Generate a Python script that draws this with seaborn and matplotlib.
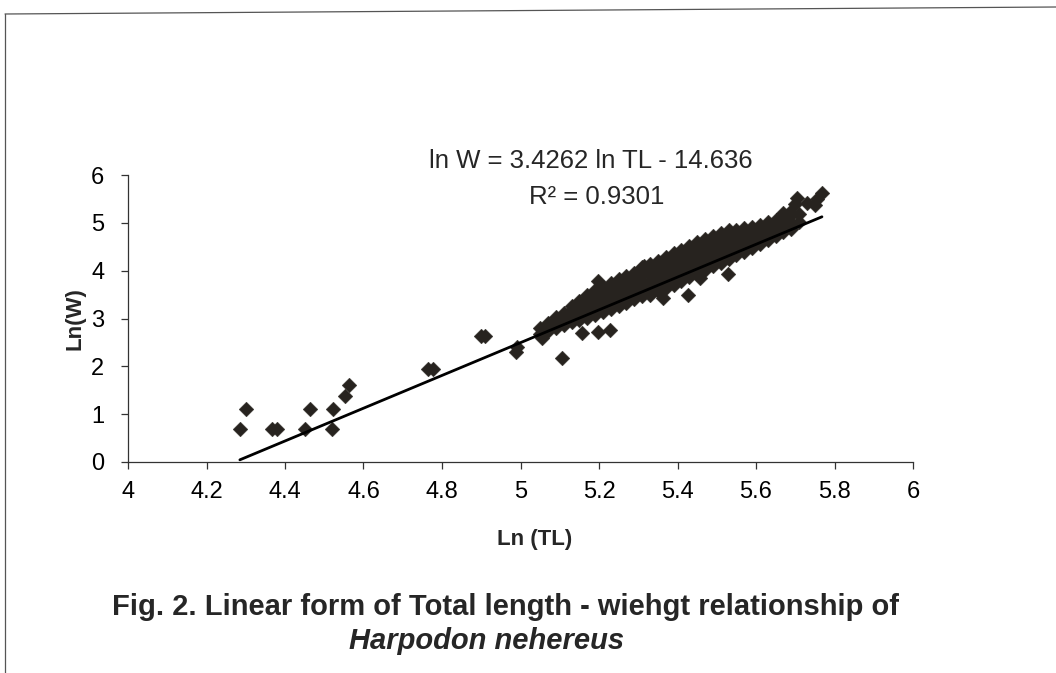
import matplotlib
matplotlib.use("Agg")
import matplotlib.pyplot as plt
import seaborn as sns
import pandas as pd
from matplotlib.lines import Line2D

# small fish at the lower end of the length range
ln_tl_small = [4.285, 4.300, 4.367, 4.380, 4.450, 4.464, 4.520, 4.522, 4.553, 4.563,
               4.764, 4.777, 4.900, 4.910, 4.988, 4.992, 5.055, 5.106]
ln_w_small = [0.69, 1.10, 0.69, 0.69, 0.69, 1.10, 0.69, 1.10, 1.39, 1.61,
              1.95, 1.95, 2.64, 2.64, 2.30, 2.40, 2.60, 2.17]

# main cloud of fish (5.05 - 5.71)
ln_tl_cloud = [5.05, 5.05,
               5.07, 5.07,
               5.09, 5.09, 5.09,
               5.11, 5.11, 5.11,
               5.13, 5.13, 5.13, 5.13,
               5.15, 5.15, 5.15, 5.15,
               5.17, 5.17, 5.17, 5.17, 5.17,
               5.19, 5.19, 5.19, 5.19, 5.19,
               5.21, 5.21, 5.21, 5.21, 5.21,
               5.23, 5.23, 5.23, 5.23, 5.23,
               5.25, 5.25, 5.25, 5.25, 5.25,
               5.27, 5.27, 5.27, 5.27, 5.27,
               5.29, 5.29, 5.29, 5.29, 5.29,
               5.31, 5.31, 5.31, 5.31, 5.31, 5.31,
               5.33, 5.33, 5.33, 5.33, 5.33, 5.33,
               5.35, 5.35, 5.35, 5.35, 5.35, 5.35,
               5.37, 5.37, 5.37, 5.37, 5.37, 5.37,
               5.39, 5.39, 5.39, 5.39, 5.39, 5.39,
               5.41, 5.41, 5.41, 5.41, 5.41, 5.41,
               5.43, 5.43, 5.43, 5.43, 5.43, 5.43,
               5.45, 5.45, 5.45, 5.45, 5.45, 5.45,
               5.47, 5.47, 5.47, 5.47, 5.47, 5.47,
               5.49, 5.49, 5.49, 5.49, 5.49, 5.49,
               5.51, 5.51, 5.51, 5.51, 5.51, 5.51,
               5.53, 5.53, 5.53, 5.53, 5.53, 5.53,
               5.55, 5.55, 5.55, 5.55, 5.55,
               5.57, 5.57, 5.57, 5.57, 5.57,
               5.59, 5.59, 5.59, 5.59,
               5.61, 5.61, 5.61, 5.61,
               5.63, 5.63, 5.63, 5.63,
               5.65, 5.65, 5.65, 5.65,
               5.67, 5.67, 5.67, 5.67,
               5.69, 5.69, 5.69,
               5.71, 5.71]
ln_w_cloud = [2.68, 2.80,
              2.74, 2.90,
              2.80, 2.94, 3.04,
              2.86, 2.98, 3.12,
              2.92, 3.04, 3.18, 3.26,
              2.97, 3.10, 3.24, 3.36,
              3.02, 3.15, 3.28, 3.40, 3.50,
              3.08, 3.22, 3.36, 3.50, 3.60,
              3.14, 3.28, 3.42, 3.56, 3.66,
              3.20, 3.34, 3.48, 3.62, 3.74,
              3.26, 3.40, 3.54, 3.70, 3.82,
              3.32, 3.46, 3.60, 3.76, 3.88,
              3.40, 3.54, 3.68, 3.84, 3.96,
              3.46, 3.60, 3.74, 3.90, 4.02, 4.08,
              3.50, 3.64, 3.78, 3.92, 4.06, 4.14,
              3.58, 3.72, 3.86, 4.00, 4.12, 4.20,
              3.64, 3.78, 3.92, 4.06, 4.18, 4.28,
              3.70, 3.84, 3.98, 4.12, 4.26, 4.36,
              3.78, 3.92, 4.06, 4.20, 4.34, 4.44,
              3.86, 4.00, 4.14, 4.28, 4.42, 4.52,
              3.94, 4.08, 4.22, 4.36, 4.50, 4.60,
              4.02, 4.16, 4.30, 4.44, 4.58, 4.66,
              4.10, 4.24, 4.38, 4.52, 4.64, 4.72,
              4.16, 4.30, 4.44, 4.58, 4.70, 4.78,
              4.24, 4.38, 4.52, 4.64, 4.76, 4.84,
              4.32, 4.46, 4.60, 4.74, 4.86,
              4.40, 4.54, 4.68, 4.80, 4.90,
              4.48, 4.62, 4.76, 4.92,
              4.56, 4.70, 4.84, 4.96,
              4.64, 4.78, 4.90, 5.02,
              4.72, 4.86, 4.98, 5.06,
              4.80, 4.92, 5.06, 5.14,
              4.88, 5.00, 5.16,
              5.02, 5.18]

# points sticking out of the cloud, and the largest fish
ln_tl_edge = [5.157, 5.197, 5.228, 5.197, 5.315, 5.363, 5.427, 5.457, 5.529,
              5.669, 5.687, 5.700, 5.705, 5.730, 5.750, 5.755, 5.768]
ln_w_edge = [2.70, 2.72, 2.76, 3.78, 4.10, 3.43, 3.49, 3.85, 3.92,
             5.20, 5.23, 5.40, 5.52, 5.41, 5.37, 5.50, 5.62]

# fitted relationship (as printed on the chart)
slope = 3.4262
intercept = -14.636
r_squared = 0.9301

x_ticks = [4.0, 4.2, 4.4, 4.6, 4.8, 5.0, 5.2, 5.4, 5.6, 5.8, 6.0]
x_tick_labels = ["4", "4.2", "4.4", "4.6", "4.8", "5", "5.2", "5.4", "5.6", "5.8", "6"]
y_ticks = [0, 1, 2, 3, 4, 5, 6]

df = pd.DataFrame({
    "ln_tl": ln_tl_small + ln_tl_cloud + ln_tl_edge,
    "ln_w": ln_w_small + ln_w_cloud + ln_w_edge,
})
x_fit = [df["ln_tl"].min(), df["ln_tl"].max()]
fit = pd.DataFrame({"ln_tl": x_fit, "ln_w": [slope * x + intercept for x in x_fit]})

sns.set_theme(style="white")
plt.rcParams["font.family"] = ["Liberation Sans", "DejaVu Sans"]

fig = plt.figure(figsize=(10.56, 6.73), dpi=100)
ax = fig.add_axes([128 / 1056, 1 - 462 / 673, 785 / 1056, 287 / 673])

sns.scatterplot(data=df, x="ln_tl", y="ln_w", marker="D", s=56, color="#27231f",
                edgecolor="#27231f", linewidth=0.3, ax=ax, zorder=3)
sns.lineplot(data=fit, x="ln_tl", y="ln_w", color="black", linewidth=2.0, ax=ax, zorder=4)

ax.set_xlim(4, 6)
ax.set_ylim(0, 6)
ax.set_xticks(x_ticks)
ax.set_xticklabels(x_tick_labels)
ax.set_yticks(y_ticks)
ax.tick_params(axis="both", direction="out", length=5, width=0.9, color="#333333",
               labelsize=17, labelcolor="black", bottom=True, left=True)
ax.tick_params(axis="x", pad=9)
ax.tick_params(axis="y", pad=12)
for side in ["top", "right"]:
    ax.spines[side].set_visible(False)
for side in ["left", "bottom"]:
    ax.spines[side].set_color("#333333")
    ax.spines[side].set_linewidth(0.9)

ax.set_xlabel("Ln (TL)", fontsize=16, fontweight="bold", va="center")
ax.xaxis.set_label_coords((535 - 128) / 785, (462 - 540) / 287)
ax.set_ylabel("Ln(W)", fontsize=16, fontweight="bold", va="center")
ax.yaxis.set_label_coords((75 - 128) / 785, 0.5)

fig.text(591 / 1056, 1 - 161 / 673, f"ln W = {slope} ln TL - {abs(intercept)}",
         ha="center", va="center", fontsize=18.5)
fig.text(597 / 1056, 1 - 197 / 673, f"R\u00b2 = {r_squared}",
         ha="center", va="center", fontsize=18.5)

fig.text(506 / 1056, 1 - 607 / 673,
         "Fig. 2. Linear form of Total length - wiehgt relationship of",
         ha="center", va="center", fontsize=21, fontweight="bold")
fig.text(487 / 1056, 1 - 641 / 673, "Harpodon nehereus",
         ha="center", va="center", fontsize=21, fontweight="bold", style="italic")

# scanned frame edges
fig.add_artist(Line2D([5 / 1056, 1.0], [1 - 14 / 673, 1 - 7 / 673],
                      color="#555555", linewidth=0.9))
fig.add_artist(Line2D([5 / 1056, 5 / 1056], [1 - 14 / 673, 0.0],
                      color="#555555", linewidth=0.9))

fig.savefig("out.png", dpi=100, facecolor="white")
